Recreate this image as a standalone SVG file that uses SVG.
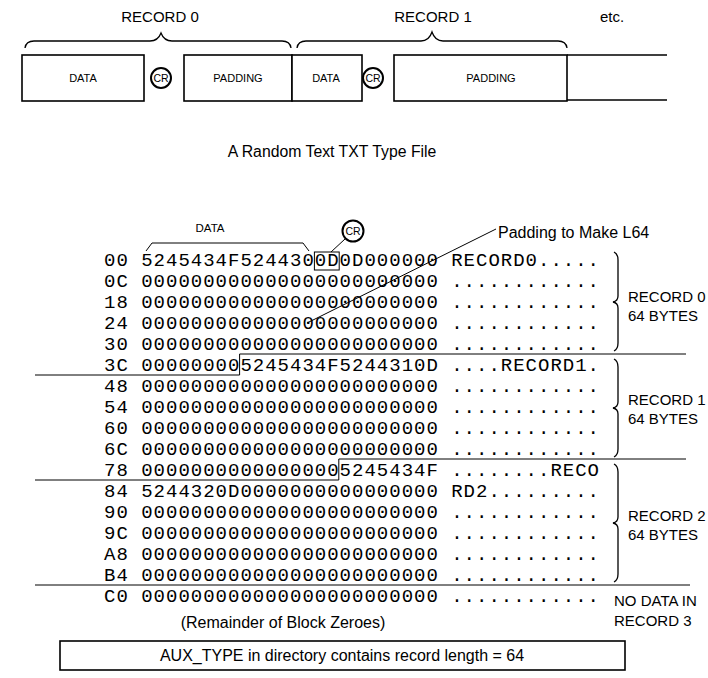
<svg xmlns="http://www.w3.org/2000/svg" width="708" height="678" viewBox="0 0 708 678">
<style>
.lbl{font-family:"Liberation Sans",Arial,sans-serif;fill:#000}
.mono{font-family:"Liberation Mono","Courier New",monospace;font-size:19px;letter-spacing:1px;fill:#000;white-space:pre}
.ln{stroke:#000;stroke-width:1.3;fill:none}
.box{stroke:#000;stroke-width:1.6;fill:#fff}
.thin{stroke:#000;stroke-width:1;fill:none}
.crc{stroke:#000;stroke-width:2;fill:#fff}
</style>
<rect width="708" height="678" fill="#fff"/>

<g id="record-file">
  <text class="lbl" x="160" y="22" font-size="15" text-anchor="middle">RECORD 0</text>
  <text class="lbl" x="433" y="22" font-size="15" text-anchor="middle">RECORD 1</text>
  <text class="lbl" x="612" y="22" font-size="15" text-anchor="middle">etc.</text>
  <path class="ln" d="M25,48 Q26,41 34,41 L150,41 Q158,41 161,33 Q164,41 172,41 L282,41 Q290,41 291,48"/>
  <path class="ln" d="M297,48 Q298,41 306,41 L421,41 Q429,41 432,32 Q435,41 443,41 L558,41 Q566,41 567,48"/>
</g>
<g id="data0">
  <rect class="box" x="22" y="55" width="122" height="46"/>
  <text class="lbl" x="83" y="82" font-size="11" text-anchor="middle">DATA</text>
</g>
<g id="cr0">
  <circle class="crc" cx="161" cy="78" r="10"/>
  <text class="lbl" x="161" y="82" font-size="10.5" text-anchor="middle">CR</text>
</g>
<g id="padding0">
  <rect class="box" x="184" y="55" width="108" height="46"/>
  <text class="lbl" x="238" y="82" font-size="11" text-anchor="middle">PADDING</text>
</g>
<g id="data1">
  <rect class="box" x="292" y="55" width="70" height="46"/>
  <text class="lbl" x="326" y="82" font-size="11" text-anchor="middle">DATA</text>
</g>
<g id="cr1">
  <circle class="crc" cx="373" cy="78" r="10"/>
  <text class="lbl" x="373" y="82" font-size="10.5" text-anchor="middle">CR</text>
</g>
<g id="padding1">
  <rect class="box" x="394" y="55" width="173" height="46"/>
  <text class="lbl" x="491" y="82" font-size="11" text-anchor="middle">PADDING</text>
</g>
<g id="next">
  <path class="ln" d="M567,55 H667 M567,100 H667" stroke-width="1.6"/>
</g>
<g id="title">
  <text class="lbl" x="332" y="157" font-size="15.8" text-anchor="middle">A Random Text TXT Type File</text>
</g>

<g id="dump">
  <text class="mono" y="266"><tspan x="104">00</tspan><tspan x="141.2">5245434F5244300D0D000000</tspan><tspan x="451.2">RECORD0.....</tspan></text>
  <text class="mono" y="287"><tspan x="104">0C</tspan><tspan x="141.2">000000000000000000000000</tspan><tspan x="451.2">............</tspan></text>
  <text class="mono" y="308"><tspan x="104">18</tspan><tspan x="141.2">000000000000000000000000</tspan><tspan x="451.2">............</tspan></text>
  <text class="mono" y="329"><tspan x="104">24</tspan><tspan x="141.2">000000000000000000000000</tspan><tspan x="451.2">............</tspan></text>
  <text class="mono" y="350"><tspan x="104">30</tspan><tspan x="141.2">000000000000000000000000</tspan><tspan x="451.2">............</tspan></text>
  <text class="mono" y="371"><tspan x="104">3C</tspan><tspan x="141.2">000000005245434F5244310D</tspan><tspan x="451.2">....RECORD1.</tspan></text>
  <text class="mono" y="392"><tspan x="104">48</tspan><tspan x="141.2">000000000000000000000000</tspan><tspan x="451.2">............</tspan></text>
  <text class="mono" y="413"><tspan x="104">54</tspan><tspan x="141.2">000000000000000000000000</tspan><tspan x="451.2">............</tspan></text>
  <text class="mono" y="434"><tspan x="104">60</tspan><tspan x="141.2">000000000000000000000000</tspan><tspan x="451.2">............</tspan></text>
  <text class="mono" y="455"><tspan x="104">6C</tspan><tspan x="141.2">000000000000000000000000</tspan><tspan x="451.2">............</tspan></text>
  <text class="mono" y="476"><tspan x="104">78</tspan><tspan x="141.2">00000000000000005245434F</tspan><tspan x="451.2">........RECO</tspan></text>
  <text class="mono" y="497"><tspan x="104">84</tspan><tspan x="141.2">5244320D0000000000000000</tspan><tspan x="451.2">RD2.........</tspan></text>
  <text class="mono" y="518"><tspan x="104">90</tspan><tspan x="141.2">000000000000000000000000</tspan><tspan x="451.2">............</tspan></text>
  <text class="mono" y="539"><tspan x="104">9C</tspan><tspan x="141.2">000000000000000000000000</tspan><tspan x="451.2">............</tspan></text>
  <text class="mono" y="560"><tspan x="104">A8</tspan><tspan x="141.2">000000000000000000000000</tspan><tspan x="451.2">............</tspan></text>
  <text class="mono" y="581"><tspan x="104">B4</tspan><tspan x="141.2">000000000000000000000000</tspan><tspan x="451.2">............</tspan></text>
  <text class="mono" y="602"><tspan x="104">C0</tspan><tspan x="141.2">000000000000000000000000</tspan><tspan x="451.2">............</tspan></text>
</g>

<g id="data-label">
  <text class="lbl" x="210" y="232" font-size="11.5" text-anchor="middle">DATA</text>
  <path class="thin" d="M146,251 L152,243 L303,243 L309,251"/>
</g>
<g id="cr-mark">
  <circle class="crc" cx="353" cy="231" r="10.5"/>
  <text class="lbl" x="353" y="235" font-size="10.5" text-anchor="middle">CR</text>
  <rect class="thin" x="314.4" y="252" width="24.8" height="18"/>
</g>
<g id="padding-note">
  <text class="lbl" x="498" y="238" font-size="16">Padding to Make L64</text>
</g>

<g id="record0-brace">
  <path class="ln" d="M614,252 Q618,254 618,260 L618,296 Q618,301 613,302 Q618,303 618,308 L618,343 Q618,349 614,351"/>
  <text class="lbl" x="628" y="302" font-size="15">RECORD 0</text>
  <text class="lbl" x="628" y="321" font-size="15">64 BYTES</text>
</g>
<g id="record1-brace">
  <path class="ln" d="M614,359 Q618,361 618,367 L618,402 Q618,407 613,408 Q618,409 618,414 L618,449 Q618,455 614,457"/>
  <text class="lbl" x="628" y="405" font-size="15">RECORD 1</text>
  <text class="lbl" x="628" y="424" font-size="15">64 BYTES</text>
</g>
<g id="record2-brace">
  <path class="ln" d="M614,464 Q618,466 618,472 L618,517 Q618,522 613,523 Q618,524 618,529 L618,574 Q618,580 614,582"/>
  <text class="lbl" x="628" y="521" font-size="15">RECORD 2</text>
  <text class="lbl" x="628" y="540" font-size="15">64 BYTES</text>
</g>
<g id="record3">
  <text class="lbl" x="614" y="606" font-size="15">NO DATA IN</text>
  <text class="lbl" x="614" y="626" font-size="15">RECORD 3</text>
</g>
<g id="remainder">
  <text class="lbl" x="283" y="628" font-size="16" text-anchor="middle">(Remainder of Block Zeroes)</text>
</g>
<g id="aux-note">
  <rect x="60" y="641" width="565" height="29" fill="none" stroke="#000" stroke-width="1.6"/>
  <text class="lbl" x="342" y="661" font-size="16" text-anchor="middle">AUX_TYPE in directory contains record length = 64</text>
</g>

<g id="connectors">
  <path class="thin" d="M345,239 L331,252"/>
  <path class="thin" d="M496,229 L307,323"/>
  <path class="thin" d="M35,375 H239.6 V354 H686"/>
  <path class="thin" d="M35,480 H338.8 V459 H686"/>
  <path class="thin" d="M35,585 H690"/>
</g>
</svg>
